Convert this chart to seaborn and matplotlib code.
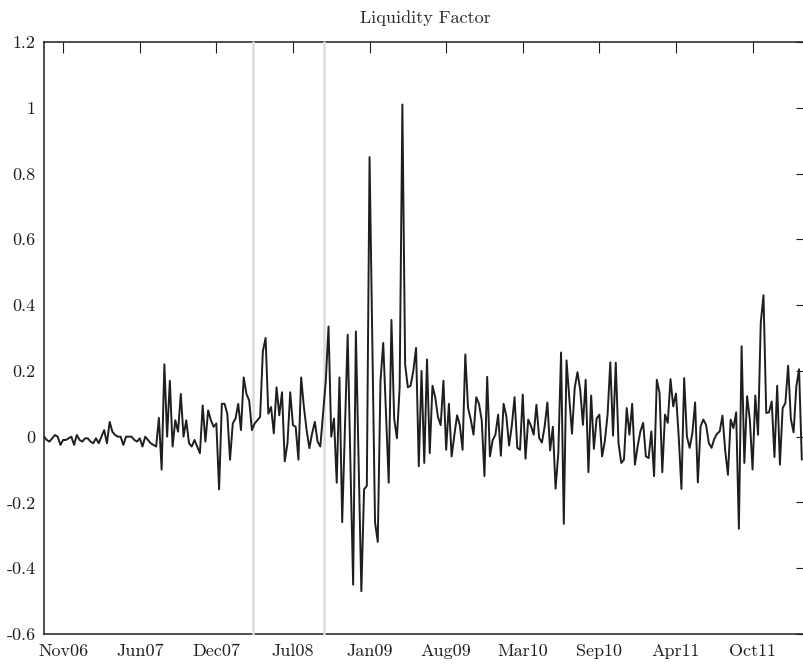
import numpy as np
import pandas as pd
import matplotlib
matplotlib.use("Agg")
import matplotlib.pyplot as plt
import seaborn as sns

# weekly liquidity factor
liquidity = [
    # 0-36
    0.0, -0.01, -0.015, -0.005, 0.005, 0.0, -0.025, -0.01, -0.01, -0.005,
    0.0, -0.025, 0.005, -0.01, -0.015, -0.005, -0.005, -0.015, -0.02, -0.005,
    -0.02, 0.0, 0.02, -0.02, 0.045, 0.015, 0.005, 0.0, 0.0, -0.025,
    0.0, 0.0, 0.0, -0.01, -0.015, -0.005, -0.03,
    # 37-41
    0.0, -0.01, -0.02, -0.025, -0.03,
    # 42-78
    0.057, -0.1, 0.22, 0.0, 0.17, -0.03, 0.05, 0.015, 0.13, 0.0,
    0.05, -0.02, -0.03, -0.01, -0.03, -0.05, 0.095, -0.015, 0.08, 0.05,
    0.03, 0.04, -0.16, 0.1, 0.1, 0.07, -0.07, 0.04, 0.055, 0.1,
    0.02, 0.18, 0.13, 0.11, 0.02, 0.04, 0.05,
    # 79-104
    0.06, 0.26, 0.3, 0.07, 0.09, 0.01, 0.15, 0.065, 0.135, -0.075,
    -0.02, 0.135, 0.035, 0.03, -0.07, 0.18, 0.09, 0.02, -0.035, 0.01,
    0.045, -0.015, -0.03, 0.07, 0.17, 0.335,
    # 105-119
    0.0, 0.055, -0.14, 0.18, -0.26, 0.02, 0.31, -0.08, -0.45, 0.32,
    -0.08, -0.47, -0.16, -0.15, 0.85,
    # 120-131
    0.3, -0.26, -0.32, 0.17, 0.285, 0.07, -0.14, 0.355, 0.055, -0.005,
    0.15, 1.01,
    # 132-153
    0.22, 0.15, 0.155, 0.2, 0.27, -0.09, 0.2, -0.08, 0.235, -0.05,
    0.155, 0.12, 0.06, 0.035, 0.17, -0.04, 0.1, -0.06, 0.005, 0.065,
    0.035, -0.04,
    # 154-209
    0.25, 0.088, 0.052, 0.006, 0.12, 0.1, 0.05, -0.12, 0.182, -0.06,
    -0.011, 0.006, 0.067, -0.058, 0.1, 0.062, -0.027, 0.033, 0.12, -0.034,
    -0.04, 0.128, -0.067, 0.052, 0.033, 0.006, 0.097, -0.004, -0.018, 0.031,
    0.104, -0.042, 0.03, -0.158, -0.05, 0.256, -0.265, 0.232, 0.118, 0.009,
    0.149, 0.196, 0.143, 0.036, 0.173, -0.108, 0.125, -0.037, 0.055, 0.067,
    -0.06, -0.014, 0.067, 0.226, 0.003, 0.225,
    # 210-277
    -0.019, -0.08, -0.07, 0.087, 0.006, 0.1, -0.085, -0.029, 0.016, 0.042,
    -0.06, -0.065, 0.016, -0.12, 0.173, 0.133, -0.108, 0.067, 0.042, 0.175,
    0.092, 0.131, 0.001, -0.159, 0.178, 0.001, -0.034, 0.011, 0.104, -0.139,
    0.031, 0.052, 0.036, -0.019, -0.034, -0.007, 0.009, 0.016, 0.064, -0.042,
    -0.116, 0.052, 0.026, 0.074, -0.28, 0.275, -0.08, 0.123, 0.052, -0.1,
    0.125, 0.006, 0.347, 0.43, 0.072, 0.074, 0.107, -0.062, 0.155, -0.085,
    0.087, 0.102, 0.216, 0.054, 0.013, 0.153, 0.205, -0.07,
]

tick_pos = [7, 35, 63, 91, 119, 147, 175, 203, 231, 259]
tick_labels = ["Nov06", "Jun07", "Dec07", "Jul08", "Jan09",
               "Aug09", "Mar10", "Sep10", "Apr11", "Oct11"]
ytick_vals = [-0.6, -0.4, -0.2, 0, 0.2, 0.4, 0.6, 0.8, 1, 1.2]
ytick_labels = ["-0.6", "-0.4", "-0.2", "0", "0.2", "0.4", "0.6", "0.8", "1", "1.2"]
events = [76.4, 102.4]  # Bear Stearns, Lehman

df = pd.DataFrame({"week": np.arange(len(liquidity)), "factor": liquidity})

sns.set_style("white")
plt.rcParams["font.family"] = ["cmr10", "DejaVu Serif"]
plt.rcParams["axes.unicode_minus"] = False
plt.rcParams["axes.formatter.use_mathtext"] = True

fig = plt.figure(figsize=(8.04, 6.69), dpi=100)
ax = fig.add_axes([44 / 804, 1 - 634 / 669, (807 - 44) / 804, 592 / 669])

sns.lineplot(data=df, x="week", y="factor", ax=ax, color="#1e1e1e",
             linewidth=1.4, zorder=4)

for ev in events:
    ax.axvline(ev, color="#dcdcdc", linewidth=1.8, zorder=3, clip_on=False)

ax.set_xlim(0, 278.9)
ax.set_ylim(-0.6, 1.2)
ax.set_xticks(tick_pos)
ax.set_xticklabels(tick_labels)
ax.set_yticks(ytick_vals)
ax.set_yticklabels(ytick_labels)
ax.set_xlabel("")
ax.set_ylabel("")
ax.set_title("Liquidity Factor", fontsize=13, pad=14)

ax.tick_params(direction="in", length=8, width=0.8, labelsize=13,
               top=True, right=True, colors="#1e1e1e")
ax.tick_params(axis="x", pad=7)
ax.tick_params(axis="y", pad=6)
for sp in ax.spines.values():
    sp.set_color("#1e1e1e")
    sp.set_linewidth(1.1)
    sp.set_visible(True)
    sp.set_zorder(2)

fig.savefig("out.png", dpi=100)
